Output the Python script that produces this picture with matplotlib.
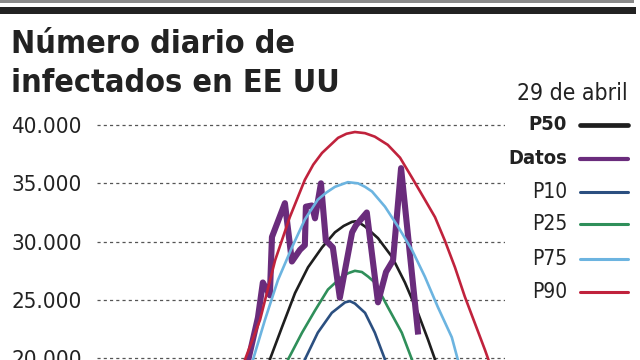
import matplotlib
matplotlib.use("Agg")
import matplotlib.pyplot as plt
from matplotlib.lines import Line2D
from matplotlib.patches import Rectangle
from matplotlib import font_manager as fm

# pick a condensed face if one is installed
has_cond = any(f.name == "DejaVu Sans" and str(f.stretch) == "condensed"
               for f in fm.fontManager.ttflist)
plt.rcParams["font.family"] = "DejaVu Sans"
if has_cond:
    plt.rcParams["font.stretch"] = "condensed"

# days (x) and daily infected (y)
dias_datos = [43.1, 46.0, 47.4, 49.4, 50.0, 53.7, 55.7, 58.0, 59.4, 59.7, 61.4, 62.3,
              64.0, 65.4, 67.4, 69.4, 72.9, 74.0, 77.1, 80.3, 82.6, 84.6, 86.9, 91.7]
datos = [19700, 23500, 26500, 25400, 30400, 33300, 28300, 29300, 29700, 33000, 33100, 32000,
         35000, 30100, 29500, 25200, 30800, 31400, 32500, 24800, 27400, 28400, 36300, 22300]

dias_p90 = [40.9, 42.3, 46.6, 50.9, 55.1, 59.4, 61.8, 64.3, 68.9, 71.3, 73.7, 76.6, 79.4,
            83.1, 86.6, 90.0, 93.7, 96.6, 99.4, 102.3, 105.1, 108.0, 110.9, 112.9]
p90 = [18300, 19900, 23300, 28400, 32100, 35300, 36600, 37600, 38900, 39250, 39400, 39300,
       39000, 38300, 37200, 35500, 33600, 32100, 30100, 27800, 25300, 23000, 20700, 19000]

dias_p75 = [43.4, 44.6, 48.0, 51.7, 55.7, 59.4, 63.1, 65.5, 68.0, 71.7, 74.6, 76.6, 78.6,
            82.3, 86.0, 90.0, 93.7, 97.4, 101.4, 103.1, 104.3]
p75 = [18800, 19900, 23300, 26700, 29500, 31900, 33600, 34200, 34700, 35100, 35000, 34700,
       34300, 33000, 31300, 29300, 27000, 24400, 21800, 19900, 18800]

dias_p50 = [48.3, 49.4, 52.9, 56.6, 60.3, 64.3, 68.0, 70.5, 72.9, 74.0, 75.1, 76.6, 80.3,
            84.3, 88.0, 91.7, 94.6, 96.6, 97.7]
p50 = [18800, 19900, 22700, 25600, 27800, 29500, 30800, 31350, 31700, 31750, 31600, 31300,
       30300, 28700, 26500, 23900, 21600, 19900, 18800]

dias_p25 = [53.4, 54.6, 58.6, 62.3, 66.0, 70.0, 71.8, 73.7, 75.7, 77.5, 79.4, 83.1, 87.1,
            90.0, 91.1]
p25 = [18800, 19900, 22200, 24100, 25900, 27000, 27300, 27500, 27400, 27000, 26500, 24400,
       22200, 19900, 18800]

dias_p10 = [58.3, 59.4, 63.1, 67.1, 70.9, 72.3, 73.7, 76.6, 79.4, 82.3, 83.4]
p10 = [18800, 19900, 22200, 23900, 24800, 24900, 24700, 23900, 22200, 19900, 18800]

yticks = [20000, 25000, 30000, 35000, 40000]
ytick_labels = ["20.000", "25.000", "30.000", "35.000", "40.000"]

colores = {"P50": "#1e1e1e", "Datos": "#6a2c7c", "P10": "#2b4f80",
           "P25": "#2f8f5a", "P75": "#6cb4e0", "P90": "#c0223c"}

W, H = 640, 360
fig = plt.figure(figsize=(6.4, 3.6), dpi=100)
fig.patch.set_facecolor("white")


def fx(px):
    return px / W


def fy(py):
    return 1 - py / H


# rules at the top
fig.add_artist(Rectangle((0, fy(2.5)), fx(634), 2.5 / H, transform=fig.transFigure,
                         color="#8a8a8a", lw=0))
fig.add_artist(Rectangle((0, fy(14)), fx(636), 7 / H, transform=fig.transFigure,
                         color="#222222", lw=0))

fig.text(fx(11), fy(53), "Número diario de", fontsize=23.2, fontweight="bold",
         color="#222222", va="baseline")
fig.text(fx(11), fy(92), "infectados en EE UU", fontsize=23.2, fontweight="bold",
         color="#222222", va="baseline")

ax = fig.add_axes([fx(97), 0, fx(408), 238.5 / H])
ax.set_xlim(0, 116.6)
ax.set_ylim(19857, 40300)
ax.set_facecolor("none")
for s in ax.spines.values():
    s.set_visible(False)
ax.set_xticks([])
ax.set_yticks(yticks)
ax.set_yticklabels(ytick_labels)
ax.tick_params(axis="y", length=0, pad=11, labelsize=16, labelcolor="#222222")
ax.yaxis.grid(True, linestyle=(0, (2.5, 2.5)), color="#555555", lw=0.9)
ax.set_axisbelow(True)

curva = dict(lw=1.9, solid_joinstyle="round", solid_capstyle="round")
ax.plot(dias_p10, p10, color=colores["P10"], zorder=3, **curva)
ax.plot(dias_p25, p25, color=colores["P25"], zorder=3, **curva)
ax.plot(dias_p50, p50, color=colores["P50"], zorder=3, **curva)
ax.plot(dias_datos, datos, color=colores["Datos"], lw=4.4, zorder=4,
        solid_joinstyle="round")
ax.plot(dias_p75, p75, color=colores["P75"], zorder=5, **curva)
ax.plot(dias_p90, p90, color=colores["P90"], zorder=5, **curva)

# legend drawn by hand, labels on the left of the swatch
fig.text(fx(628), fy(93), "29 de abril", fontsize=16.5, color="#222222",
         ha="right", va="center")
filas = [("P50", 125, True, 3.4), ("Datos", 159, True, 3.0), ("P10", 192, False, 2.2),
         ("P25", 224, False, 2.2), ("P75", 259, False, 2.2), ("P90", 292, False, 2.2)]
for nombre, py, negrita, grosor in filas:
    fig.text(fx(567), fy(py), nombre, fontsize=14.5 if negrita else 15,
             fontweight="bold" if negrita else "normal", color="#222222",
             ha="right", va="center")
    fig.add_artist(Line2D([fx(580), fx(628)], [fy(py), fy(py)], transform=fig.transFigure,
                          color=colores[nombre], lw=grosor, solid_capstyle="round"))

fig.savefig("out.png", dpi=100, facecolor="white")
